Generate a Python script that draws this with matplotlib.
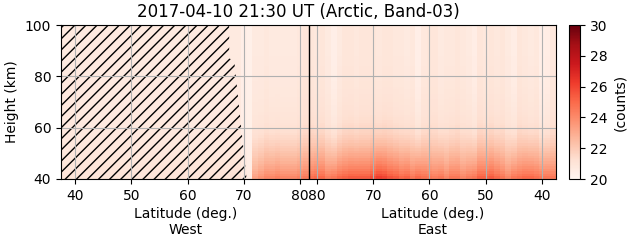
import numpy as np
import matplotlib
matplotlib.use("Agg")
import matplotlib.pyplot as plt
import matplotlib.transforms as mtransforms

# column centres along track (x = lat on west side, x = 163 - lat on east side)
col_x = np.arange(38, 126)
col_edges = np.arange(37.5, 126.5, 1.0)
height_edges = np.arange(40, 101, 1)

# counts at the bottom row (40 km) per column
bottom = [21.0] * 30 + [
    21.2, 21.2, 20.8, 20.6, 23.3, 23.7, 24.1, 24.1, 24.3, 24.1,   # x 68-77
    24.1, 24.1, 24.3, 24.5, 24.8, 25.0, 25.0, 24.4, 24.6, 25.0,   # x 78-87
    25.2, 25.4, 25.4, 25.4, 25.4, 25.8, 26.2, 26.0, 25.6, 25.4,   # x 88-97
    25.0, 25.2, 24.6, 25.0, 24.8, 24.6, 24.4, 24.6, 24.1, 24.6,   # x 98-107
    24.6, 24.1, 24.4, 24.6, 25.2, 25.2, 25.4, 25.0, 24.6, 24.1,   # x 108-117
    24.6, 24.8, 25.0, 25.0, 24.8, 24.6, 24.6, 24.6,               # x 118-125
]
# background counts at the top per column
top = [20.7] * 30 + [
    20.7, 20.7, 20.4, 20.3, 20.7, 20.7, 20.8, 20.7, 20.7, 20.7,
    20.7, 20.7, 20.8, 20.9, 20.9, 20.8, 20.9, 20.7, 20.4, 20.7,
    20.9, 20.9, 20.8, 20.9, 20.9, 20.9, 20.8, 20.9, 20.9, 20.8,
    20.8, 20.7, 20.8, 20.4, 20.8, 20.9, 20.9, 20.7, 20.8, 20.8,
    20.9, 20.8, 20.7, 20.5, 20.9, 20.8, 20.9, 20.8, 20.9, 20.7,
    20.5, 20.9, 20.8, 20.7, 20.8, 20.4, 20.5, 20.8,
]
# vertical shape of the enhancement (40-41 km ... 99-100 km)
profile = [1.0, 0.92, 0.85, 0.78, 0.72, 0.67, 0.62, 0.57, 0.52, 0.48,
           0.44, 0.40, 0.36, 0.32, 0.28, 0.25, 0.22, 0.19, 0.17, 0.15,
           0.13, 0.115, 0.1, 0.09, 0.08, 0.07, 0.065, 0.06, 0.055, 0.05,
           0.045, 0.04, 0.035, 0.03, 0.03, 0.025, 0.02, 0.02, 0.015, 0.015,
           0.01, 0.01, 0.01, 0.01, 0.005, 0.005, 0.005, 0.005, 0.0, 0.0] + [0.0] * 10

# hatched (no data) region boundary
hatch_h = [40, 86, 87, 100]
hatch_x = [70.5, 68.3, 67.4, 67.4]

tick_pos = [40, 50, 60, 70, 80, 83, 93, 103, 113, 123]
tick_lab = ["40", "50", "60", "70", "80", "80", "70", "60", "50", "40"]

bottom = np.array(bottom)
top = np.array(top)
profile = np.array(profile)
counts = top[None, :] + (bottom - top)[None, :] * profile[:, None]

fig = plt.figure(figsize=(6.31, 2.43), dpi=100)
ax = fig.add_axes([61/631, 64/243, 495/631, 154/243])
cax = fig.add_axes([569/631, 64/243, 11/631, 154/243])

mesh = ax.pcolormesh(col_edges, height_edges, counts, cmap="Reds", vmin=20, vmax=30)
ax.fill_betweenx(hatch_h, 37.5, hatch_x, facecolor="none", edgecolor="black",
                 linewidth=0, hatch="///")
ax.axvline(81.5, color="black", lw=1)

ax.set_xlim(37.5, 125.5)
ax.set_ylim(40, 100)
ax.set_xticks(tick_pos)
ax.set_xticklabels(tick_lab)
ax.set_yticks([40, 60, 80, 100])
ax.grid(True)
ax.set_ylabel("Height (km)")
ax.set_title("2017-04-10 21:30 UT (Arctic, Band-03)", x=0.48)

trans = mtransforms.blended_transform_factory(ax.transData, ax.transAxes)
ax.text(59.7, -0.18, "Latitude (deg.)\nWest", transform=trans, ha="center", va="top")
ax.text(103.5, -0.18, "Latitude (deg.)\nEast", transform=trans, ha="center", va="top")

cb = fig.colorbar(mesh, cax=cax)
cb.set_ticks([20, 22, 24, 26, 28, 30])
cb.set_label("(counts)")

fig.savefig("out.png", dpi=100)
